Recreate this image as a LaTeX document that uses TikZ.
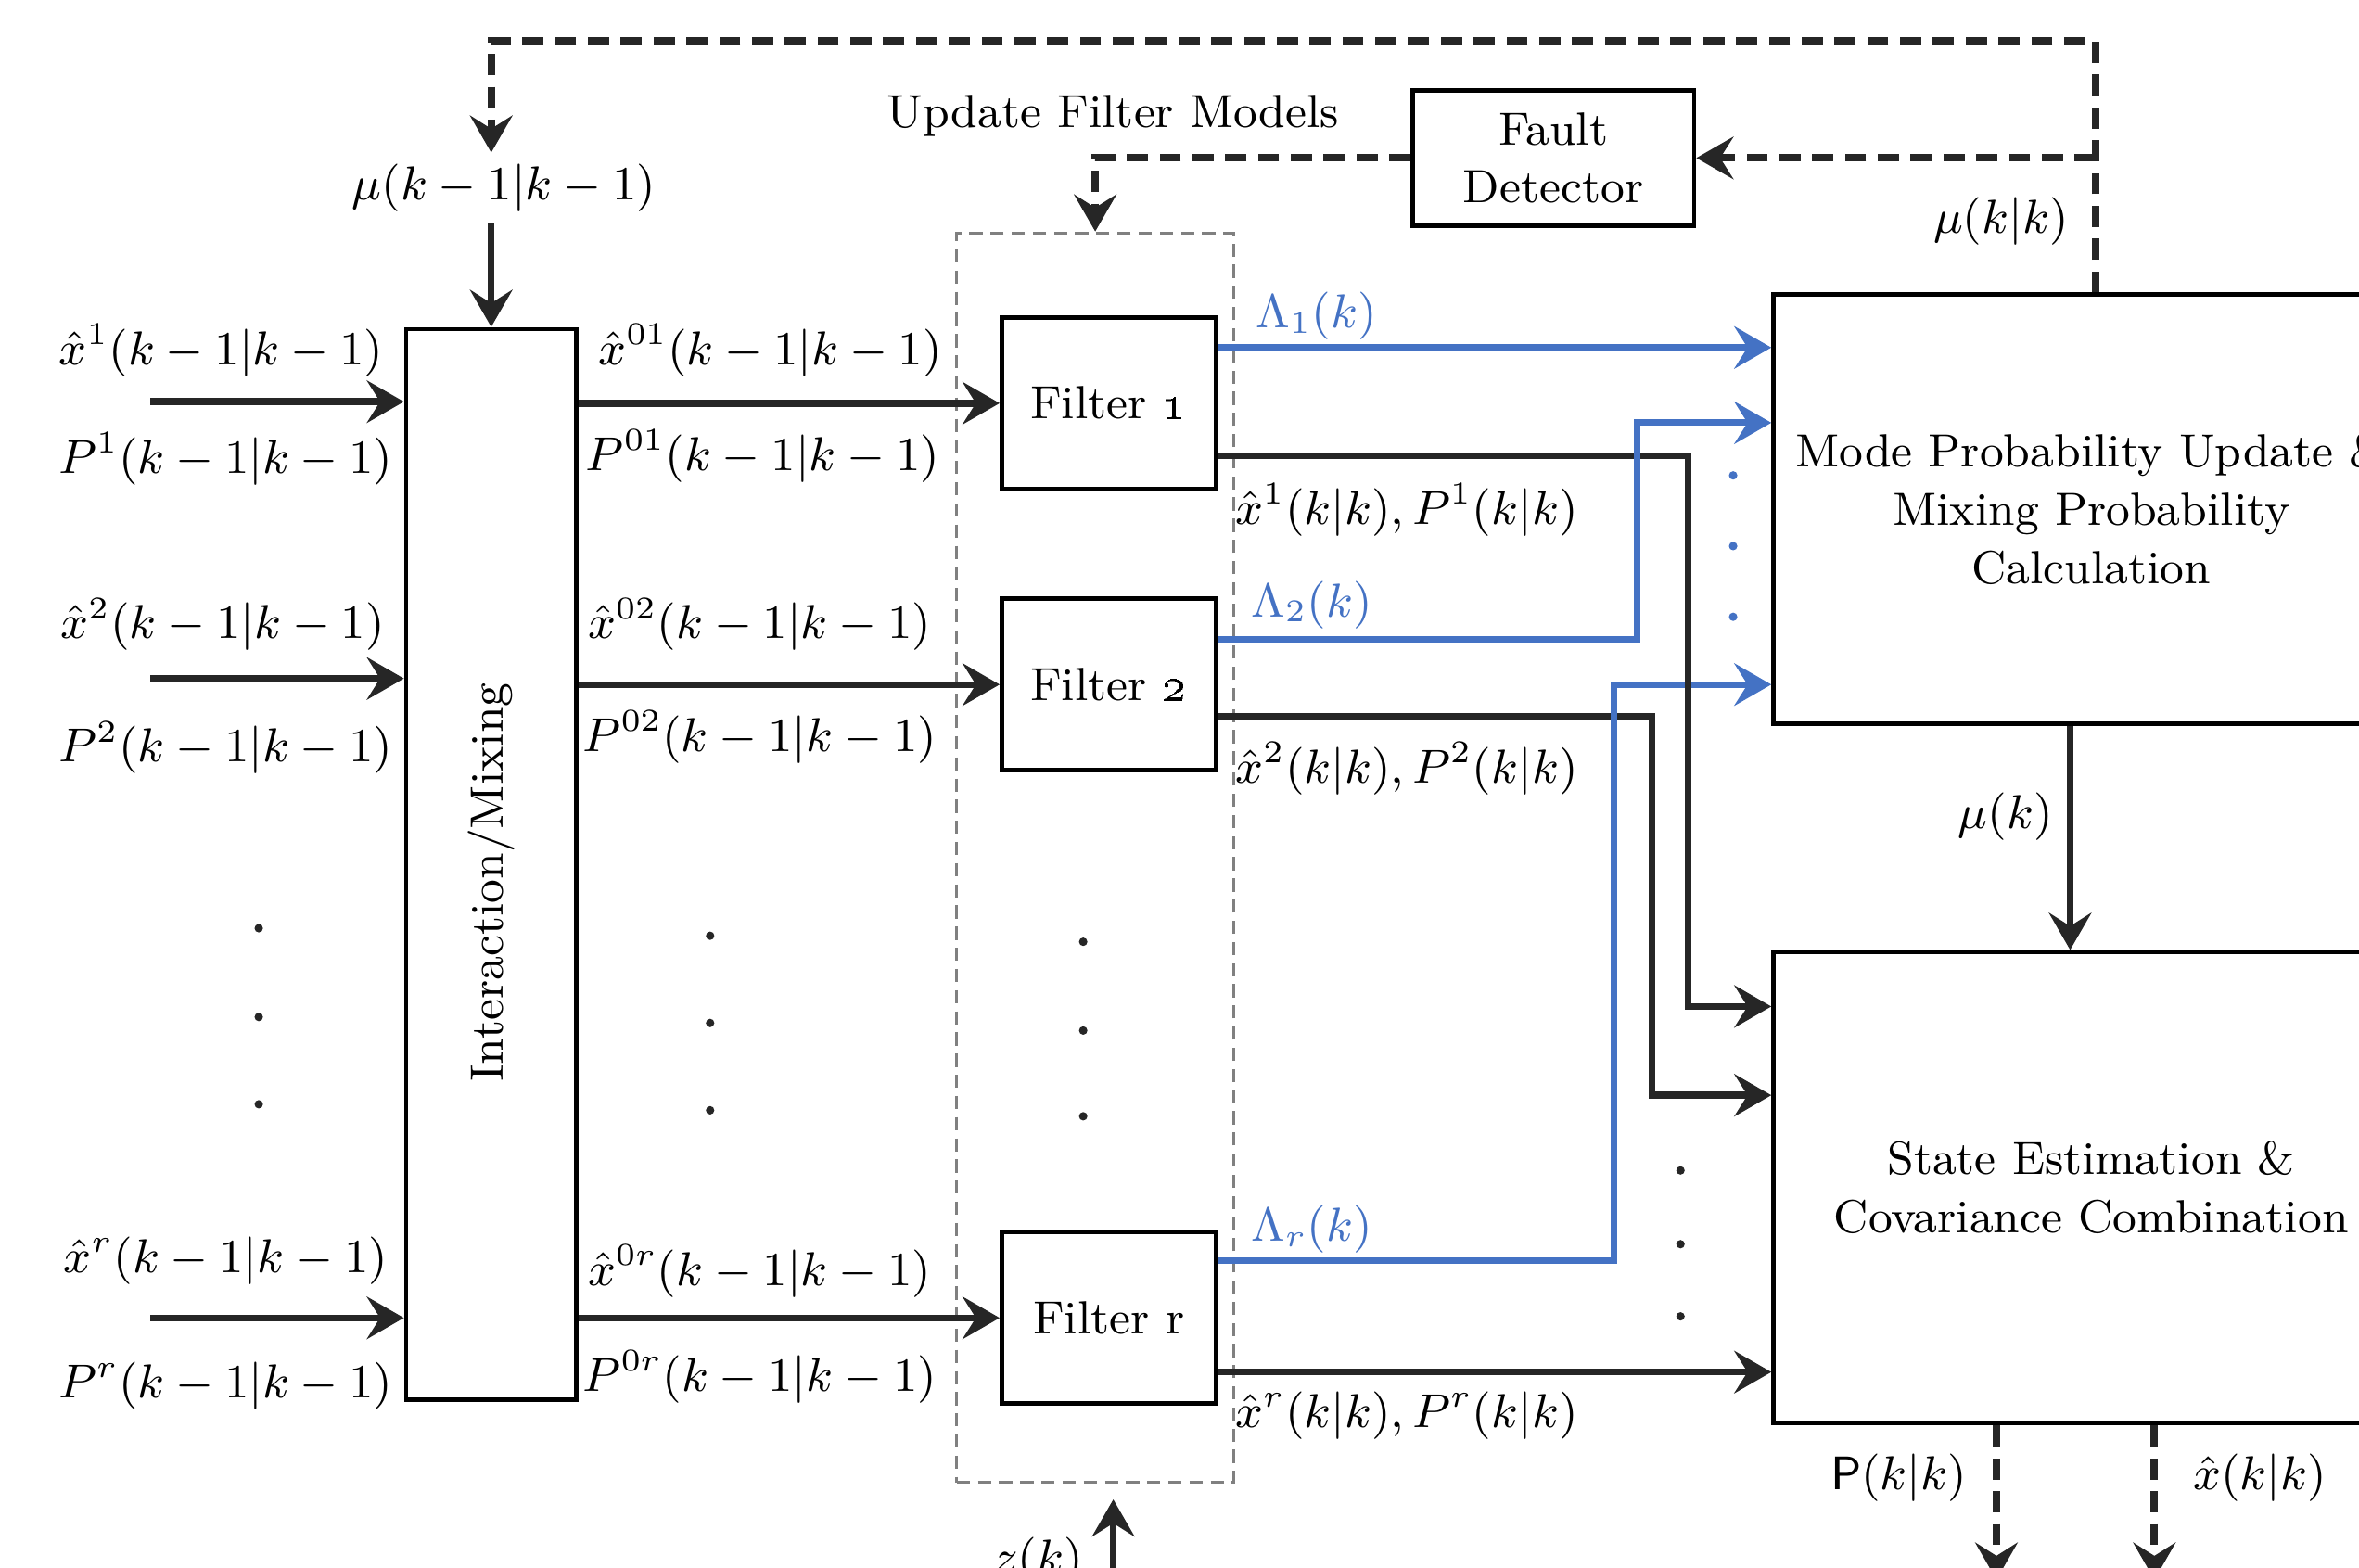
\documentclass[tikz,border=0pt]{standalone}
\usepackage{graphicx}
\usetikzlibrary{arrows.meta,calc}
\definecolor{ink}{HTML}{262626}
\definecolor{lblue}{HTML}{4472C4}

\begin{document}
\begin{tikzpicture}[x=0.01cm,y=-0.01cm,
        >={Stealth[length=7pt,width=8pt,inset=2.5pt]},
        box/.style={draw=black,line width=0.85pt,align=center,inner sep=0pt,
            font=\fontsize{8.8}{11}\selectfont},
        lbl/.style={font=\fontsize{8.9}{11}\selectfont,inner sep=2pt},
        arr/.style={draw=ink,line width=1.3pt,->},
        blu/.style={draw=lblue,line width=1.2pt,->},
        fbk/.style={draw=ink,line width=1.4pt,dash pattern=on 4pt off 2.2pt,->}]

        \useasboundingbox (0,0) rectangle (1568,1042);
        \clip (0,0) rectangle (1568,1042);

        \node[draw=gray,line width=0.5pt,dash pattern=on 2.5pt off 1.5pt,
            minimum width=1.84cm,minimum height=8.3cm] (bank) at (728,570) {};

        \node[box,minimum width=1.13cm,minimum height=7.11cm] (mix) at (326.5,574.5)
            {\rotatebox{90}{Interaction/Mixing\hspace*{0.24cm}}};
        \node[box,minimum width=1.42cm,minimum height=1.14cm] (f1) at (737,268) {Filter \oldstylenums{1}};
        \node[box,minimum width=1.42cm,minimum height=1.14cm] (f2) at (737,455) {Filter \oldstylenums{2}};
        \node[box,minimum width=1.42cm,minimum height=1.14cm] (fr) at (737,876) {Filter r};
        \node[box,minimum width=1.87cm,minimum height=0.9cm] (fd) at (1032.5,105) {Fault\\Detector};
        \node[box,minimum width=4.22cm,minimum height=2.85cm] (mode) at (1390,338.5)
            {Mode Probability Update \&\\Mixing Probability\\Calculation};
        \node[box,minimum width=4.22cm,minimum height=3.13cm] (state) at (1390,789.5)
            {State Estimation \&\\Covariance Combination};

        \node[lbl] (mu0) at (335,125) {$\mu(k-1|k-1)$};
        \node[lbl] (xh1) at (147,233) {$\hat{x}^1(k-1|k-1)$};
        \node[lbl] (p1) at (150,305) {$P^1(k-1|k-1)$};
        \node[lbl] (xh2) at (148,415) {$\hat{x}^2(k-1|k-1)$};
        \node[lbl] (p2) at (150,497) {$P^2(k-1|k-1)$};
        \node[lbl] (xhr) at (150,838) {$\hat{x}^r(k-1|k-1)$};
        \node[lbl] (pr) at (150,921) {$P^r(k-1|k-1)$};
        \node[lbl] (xh01) at (512,233) {$\hat{x}^{01}(k-1|k-1)$};
        \node[lbl] (p01) at (507,303) {$P^{01}(k-1|k-1)$};
        \node[lbl] (xh02) at (505,415) {$\hat{x}^{02}(k-1|k-1)$};
        \node[lbl] (p02) at (505,490) {$P^{02}(k-1|k-1)$};
        \node[lbl] (xh0r) at (505,845) {$\hat{x}^{0r}(k-1|k-1)$};
        \node[lbl] (p0r) at (505,915) {$P^{0r}(k-1|k-1)$};
        \node[box,draw=none] (upd) at (740,77) {Update Filter Models};
        \node[lbl] (mukk) at (1330,147) {$\mu(k|k)$};
        \node[lbl,text=lblue] (lam1) at (875,210) {$\Lambda_1(k)$};
        \node[lbl,text=lblue] (lam2) at (872,402) {$\Lambda_2(k)$};
        \node[lbl,text=lblue] (lamr) at (872,817) {$\Lambda_r(k)$};
        \node[lbl] (est1) at (935,339) {$\hat{x}^1(k|k),P^1(k|k)$};
        \node[lbl] (est2) at (935,511) {$\hat{x}^2(k|k),P^2(k|k)$};
        \node[lbl] (estr) at (935,941) {$\hat{x}^r(k|k),P^r(k|k)$};
        \node[lbl] (muk) at (1333,543) {$\mu(k)$};
        \node[lbl] (pout) at (1262,982) {\textsf{P}$(k|k)$};
        \node[lbl] (xout) at (1502,982) {$\hat{x}(k|k)$};
        \node[lbl] (zk) at (690,1038) {$z(k)$};

        \coordinate (in1) at (100,267);
        \coordinate (in2) at (100,451);
        \coordinate (inr) at (100,876);
        \coordinate (mtop) at ($(mode.north)+(3,0)$);
        \coordinate (o1) at (1327,1050);
        \coordinate (o2) at (1432,1050);
        \coordinate (zin) at (740,1070);

        \foreach \i in {in1,in2,inr}
            \draw[arr] (\i) -- (\i -| mix.west);
        \foreach \f in {f1,f2,fr}
            \draw[arr] (mix.east |- \f.west) -- (\f.west);
        \draw[arr] (mix.north |- mu0.south) -- (mix.north);

        \draw[fbk] (mtop) -- (mtop |- 0,27) -| (mix.north |- mu0.north);
        \draw[fbk] (mtop |- fd.east) -- (fd.east);
        \draw[fbk] (fd.west) -| (bank.north);

        \draw[blu] (f1.east |- 0,231) -- (mode.west |- 0,231);
        \draw[arr] (fr.east |- 0,912) -- (state.west |- 0,912);
        \draw[arr] (f2.east |- 0,476) -| (1098,728) -- (state.west |- 0,728);
        \draw[blu] (fr.east |- 0,838) -| (1073,455) -- (mode.west |- 0,455);
        \draw[arr] (f1.east |- 0,303) -| (1122,669) -- (state.west |- 0,669);
        \draw[blu] (f2.east |- 0,425) -| (1088,281) -- (mode.west |- 0,281);

        \draw[arr] ($(mode.south)+(-14,0)$) -- ($(state.north)+(-14,0)$);
        \draw[fbk] (state.south -| o1) -- (o1);
        \draw[fbk] (state.south -| o2) -- (o2);
        \draw[arr,shorten >=3pt] (zin) -- (zin |- bank.south);

        \foreach \x/\y in {172/617,172/676,172/734,472/622,472/680,472/738,
            720/626,720/685,720/742,1117/778,1117/827,1117/875}
            \fill[ink] (\x,\y) circle (0.8pt);
        \foreach \y in {316,363,410}
            \fill[lblue] (1152,\y) circle (0.8pt);
    \end{tikzpicture}
\end{document}
